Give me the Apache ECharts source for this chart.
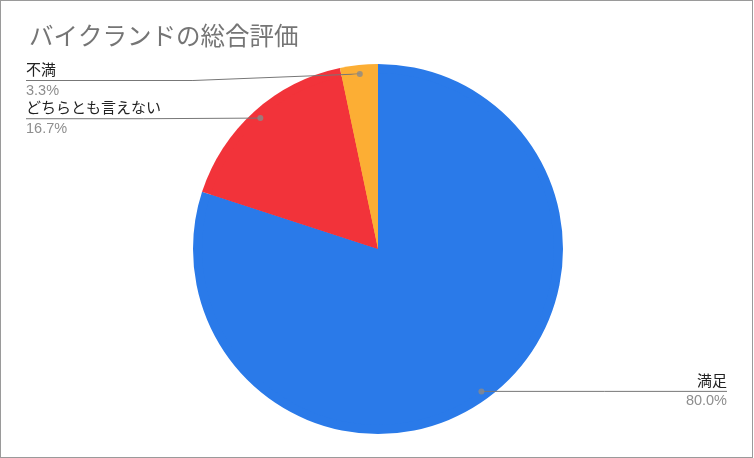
<!DOCTYPE html>
<html>
<head>
<meta charset="utf-8">
<script src="https://cdn.jsdelivr.net/npm/echarts@6/dist/echarts.min.js"></script>
<style>
  body { margin: 0; background: #fff; }
  #chart { width: 753px; height: 458px; box-sizing: border-box; border: 1px solid #9a9a9a; }
</style>
</head>
<body>
<div id="chart"></div>
<script>
var titleText = 'バイクランドの総合評価';
var names = ['満足', 'どちらとも言えない', '不満'];
var values = [80.0, 16.7, 3.3];
var colors = ['#2a7ae9', '#f2333a', '#fcae34'];

var chart = echarts.init(document.getElementById('chart'));
var font = '"Liberation Sans", Arial, "Noto Sans CJK JP", sans-serif';

var total = values.reduce(function (a, b) { return a + b; }, 0);
// mid angle of each slice, in percent of the circle
var acc = 0;
var dots = values.map(function (v) {
  var mid = (acc + v / 2) / total * 100;
  acc += v;
  return [1, mid];
});

var pieData = names.map(function (n, i) {
  return { name: n, value: values[i], itemStyle: { color: colors[i] } };
});

var labelTop = 61;

var option = {
  animation: false,
  title: {
    text: titleText,
    left: 23,
    top: 20,
    textStyle: { fontFamily: font, fontSize: 24.5, fontWeight: 'normal', color: '#757575' }
  },
  polar: { center: [377, 248], radius: 176 },
  angleAxis: { type: 'value', min: 0, max: 100, startAngle: 90, show: false },
  radiusAxis: { type: 'value', min: 0, max: 1, show: false },
  series: [
    {
      type: 'pie',
      center: [377, 248],
      radius: 185,
      startAngle: 90,
      silent: true,
      label: { show: false },
      labelLine: { show: false },
      data: pieData
    },
    {
      // transparent pie only for the labels, so the lines start inside the slices
      type: 'pie',
      top: labelTop,
      center: [377, 248 - labelTop],
      radius: 176,
      startAngle: 90,
      silent: true,
      z: 3,
      itemStyle: { color: 'rgba(0,0,0,0)' },
      label: {
        show: true,
        position: 'outside',
        alignTo: 'edge',
        edgeDistance: 25,
        fontFamily: font,
        formatter: function (p) {
          return '{n|' + p.name + '}\n{p|' + p.value.toFixed(1) + '%}';
        },
        rich: {
          n: { fontFamily: font, fontSize: 15, color: '#222', lineHeight: 20 },
          p: { fontFamily: font, fontSize: 14.5, color: '#8e8e8e', lineHeight: 20 }
        }
      },
      labelLine: {
        show: true,
        length: 0,
        length2: 10,
        lineStyle: { color: '#777', width: 1 }
      },
      labelLayout: function (params) {
        var pts = params.labelLinePoints;
        if (!pts) return {};
        var r = params.labelRect;
        var np = pts.map(function (p) { return [p[0], p[1]]; });
        var n = np.length - 1;
        var left = np[n][0] < np[0][0];
        np[n][0] = left ? r.x : r.x + r.width;
        // bend half way when the label had to be moved
        if (n === 2) {
          np[1] = [(np[0][0] + np[2][0]) / 2, np[2][1]];
        }
        return { labelLinePoints: np };
      },
      data: pieData
    },
    {
      type: 'scatter',
      coordinateSystem: 'polar',
      symbolSize: 6,
      silent: true,
      z: 4,
      itemStyle: { color: '#8a8a8a' },
      data: dots
    }
  ]
};

chart.setOption(option);
</script>
</body>
</html>
